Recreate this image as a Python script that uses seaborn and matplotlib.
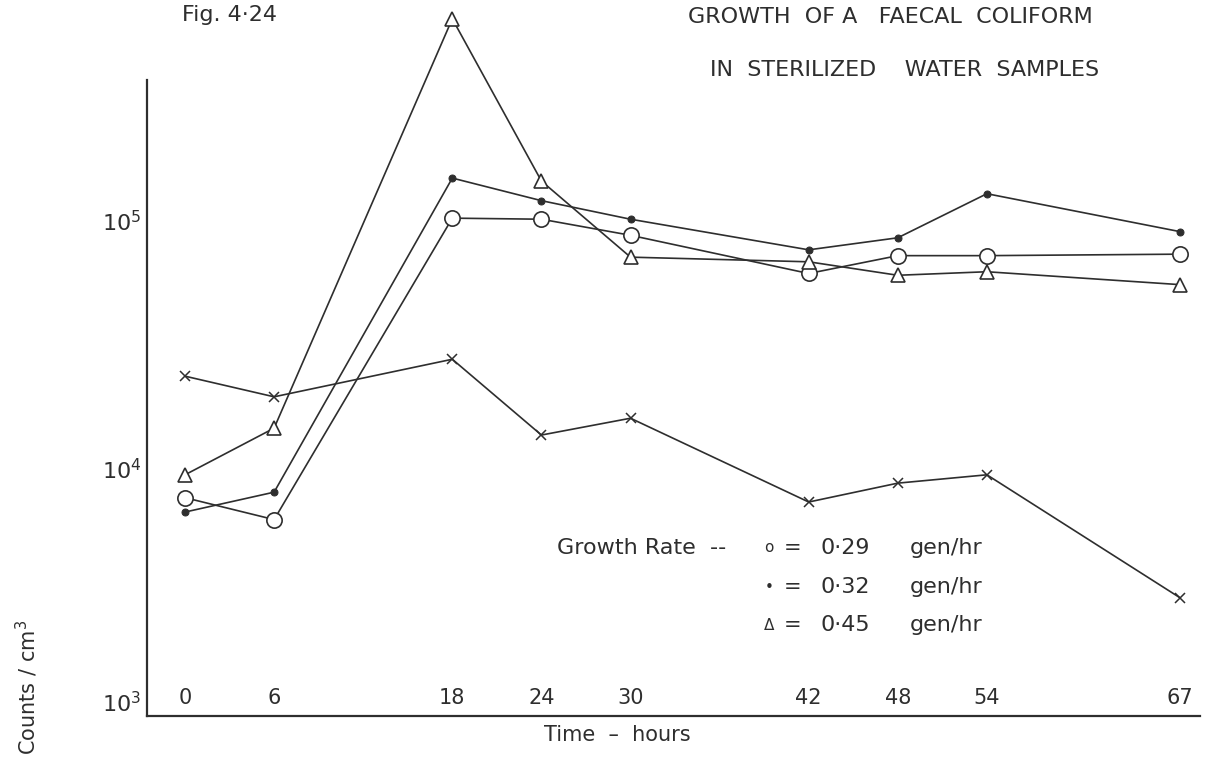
import numpy as np
import pandas as pd
import matplotlib
matplotlib.use("Agg")
import matplotlib.pyplot as plt
import seaborn as sns

# ---- data ----
hours = [0, 6, 18, 24, 30, 42, 48, 54, 67]
rate_029 = [7.6e3, 6.2e3, 1.02e5, 1.01e5, 8.7e4, 6.1e4, 7.2e4, 7.2e4, 7.3e4]    # open circles
rate_032 = [6.65e3, 8.0e3, 1.48e5, 1.2e5, 1.01e5, 7.6e4, 8.5e4, 1.28e5, 9.0e4]  # dots
rate_045 = [9.4e3, 1.45e4, 6.5e5, 1.44e5, 7.1e4, 6.8e4, 6.0e4, 6.2e4, 5.5e4]    # triangles
crosses = [2.35e4, 1.94e4, 2.75e4, 1.36e4, 1.59e4, 7.3e3, 8.7e3, 9.4e3, 3.0e3]  # x
x_ticks = [0, 6, 18, 24, 30, 42, 48, 54, 67]
y_ticks = [1e3, 1e4, 1e5]
y_tick_labels = ["$10^3$", "$10^4$", "$10^5$"]

sns.set_theme(style="white")
plt.rcParams["font.family"] = ["DejaVu Sans"]
plt.rcParams["mathtext.fontset"] = "dejavusans"

W, H = 1208, 767
fig = plt.figure(figsize=(W / 100, H / 100), dpi=100)
ax = fig.add_axes([147 / W, 1 - 716 / H, (1200 - 147) / W, (716 - 80) / H])

ink = "#2e2e2e"
common = dict(ax=ax, color=ink, linewidth=1.2, clip_on=False, legend=False)
sns.lineplot(x=hours, y=crosses, marker="x", markersize=7, markeredgewidth=1.1,
             markeredgecolor=ink, **common)
sns.lineplot(x=hours, y=rate_029, marker="o", markersize=11, markerfacecolor="white",
             markeredgecolor=ink, markeredgewidth=1.2, **common)
sns.lineplot(x=hours, y=rate_045, marker="^", markersize=10, markerfacecolor="white",
             markeredgecolor=ink, markeredgewidth=1.2, **common)
sns.lineplot(x=hours, y=rate_032, marker="o", markersize=5, markerfacecolor=ink,
             markeredgecolor=ink, **common)

ax.set_yscale("log")
ax.set_xlim(-2.56, 68.35)
ax.set_ylim(1e3, 10 ** 5.566)

for s in ["top", "right"]:
    ax.spines[s].set_visible(False)
for s in ["left", "bottom"]:
    ax.spines[s].set_color(ink)
    ax.spines[s].set_linewidth(1.6)

ax.set_xticks(x_ticks)
ax.set_xticklabels([str(v) for v in x_ticks])
ax.set_yticks(y_ticks)
ax.set_yticklabels(y_tick_labels)
ax.yaxis.set_minor_locator(matplotlib.ticker.NullLocator())
ax.tick_params(axis="x", direction="in", length=8, width=1.2, color=ink,
               labelsize=15, labelcolor=ink, pad=-6)
ax.tick_params(axis="y", direction="inout", length=8, width=1.2, color=ink,
               labelsize=16, labelcolor=ink, pad=0)
for lab in ax.get_xticklabels():
    lab.set_verticalalignment("bottom")
ax.get_yticklabels()[0].set_verticalalignment("bottom")
ax.set_xlabel("")
ax.set_ylabel("")
ax.grid(False)


def ft(x, y, s, **kw):
    kw.setdefault("color", ink)
    fig.text(x / W, 1 - y / H, s, **kw)


ft(182, 15, "Fig. 4·24", fontsize=16, va="center", ha="left")
ft(890, 17, "GROWTH  OF A   FAECAL  COLIFORM", fontsize=16, va="center", ha="center")
ft(905, 70, "IN  STERILIZED    WATER  SAMPLES", fontsize=16, va="center", ha="center")
ft(617, 735, "Time  –  hours", fontsize=15, va="center", ha="center")
ft(27, 687, "Counts / cm$^3$", fontsize=15, va="center", ha="center", rotation=90)

ft(557, 548, "Growth Rate  --", fontsize=16, va="center", ha="left")
for yy, sym, val in [(548, "o", "0·29"), (587, "•", "0·32"), (625, "Δ", "0·45")]:
    ft(769, yy, sym, fontsize=11, va="center", ha="center")
    ft(793, yy, "=", fontsize=15, va="center", ha="center")
    ft(820, yy, val, fontsize=16, va="center", ha="left")
    ft(910, yy, "gen/hr", fontsize=16, va="center", ha="left")

fig.savefig("out.png", dpi=100, facecolor="white")
